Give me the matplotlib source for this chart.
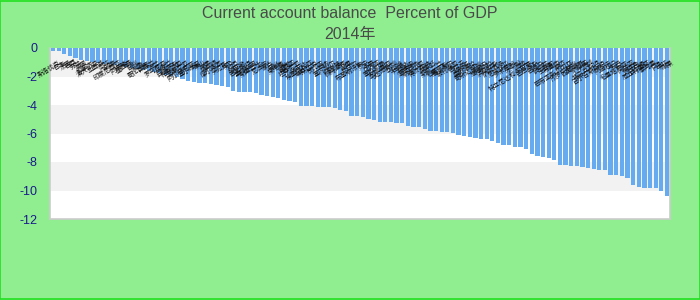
import matplotlib.pyplot as plt
import matplotlib.transforms as mtransforms
from matplotlib.patches import Rectangle

plt.rcParams['font.family'] = ['Liberation Sans', 'Noto Sans CJK SC', 'DejaVu Sans']

# 经常账户余额 (占GDP百分比), 2014
countries = ["斯洛伐克", "日本", "法国", "巴西", "芬兰", "英国", "加拿大", "澳大利亚", "土耳其", "南非",
             "印度", "印度尼西亚", "阿根廷", "墨西哥", "智利", "秘鲁", "哥伦比亚", "新西兰", "波兰", "罗马尼亚",
             "乌克兰", "白俄罗斯", "格鲁吉亚", "亚美尼亚", "阿尔巴尼亚", "塞尔维亚", "黑山", "波黑", "马其顿", "摩尔多瓦",
             "突尼斯", "埃及", "约旦", "黎巴嫩", "巴基斯坦", "孟加拉国", "斯里兰卡", "尼泊尔", "蒙古", "老挝",
             "柬埔寨", "缅甸", "肯尼亚", "坦桑尼亚", "乌干达", "埃塞俄比亚", "莫桑比克", "赞比亚", "加纳", "塞内加尔",
             "喀麦隆", "科特迪瓦", "马里", "尼日尔", "布基纳法索", "贝宁", "多哥", "几内亚", "塞拉利昂", "利比里亚",
             "马达加斯加", "马拉维", "卢旺达", "布隆迪", "津巴布韦", "纳米比亚", "博茨瓦纳", "莱索托", "斯威士兰", "毛里求斯",
             "厄瓜多尔", "玻利维亚", "巴拉圭", "乌拉圭", "委内瑞拉", "哥斯达黎加", "巴拿马", "危地马拉", "洪都拉斯", "萨尔瓦多",
             "尼加拉瓜", "多米尼加", "牙买加", "海地", "特立尼达和多巴哥", "巴巴多斯", "巴哈马", "伯利兹", "圭亚那", "苏里南",
             "斐济", "巴布亚新几内亚", "所罗门群岛", "瓦努阿图", "萨摩亚", "汤加", "塔吉克斯坦", "吉尔吉斯斯坦", "阿富汗", "也门",
             "苏丹", "毛里塔尼亚", "冈比亚", "佛得角", "吉布提", "厄立特里亚", "索马里", "乍得", "中非", "刚果"]

balance = [-0.19, -0.23, -0.42, -0.54, -0.70, -0.85, -0.93, -1.00, -1.05, -1.10,
           -1.15, -1.20, -1.25, -1.32, -1.38, -1.45, -1.52, -1.58, -1.66, -1.75,
           -1.86, -1.95, -2.06, -2.20, -2.30, -2.40, -2.45, -2.48, -2.50, -2.57,
           -2.64, -2.76, -2.99, -3.06, -3.06, -3.08, -3.18, -3.27, -3.39, -3.46,
           -3.53, -3.62, -3.69, -3.76, -4.04, -4.10, -4.10, -4.12, -4.12, -4.16,
           -4.23, -4.33, -4.40, -4.75, -4.75, -4.82, -4.96, -5.03, -5.17, -5.17,
           -5.17, -5.24, -5.24, -5.45, -5.52, -5.52, -5.66, -5.80, -5.80, -5.87,
           -5.87, -5.94, -6.08, -6.15, -6.22, -6.29, -6.36, -6.36, -6.50, -6.64,
           -6.78, -6.78, -6.92, -6.92, -7.06, -7.41, -7.55, -7.62, -7.69, -7.83,
           -8.18, -8.18, -8.25, -8.25, -8.32, -8.39, -8.46, -8.53, -8.53, -8.88,
           -8.88, -8.95, -9.09, -9.58, -9.72, -9.80, -9.80, -9.80, -10.00, -10.36]

yticks = [0, -2, -4, -6, -8, -10, -12]

fig = plt.figure(figsize=(7, 3), dpi=100, facecolor='#90ee90')
fig.patches.append(Rectangle((0.0007, 0.0017), 0.9986, 0.9966, transform=fig.transFigure,
                             fill=False, edgecolor='#22e022', linewidth=1.2))

ax = fig.add_axes([50 / 700, 1 - 219 / 300, 620 / 700, 171 / 300])
ax.set_facecolor('white')

# alternating horizontal bands
for k, (top, bot) in enumerate(zip(yticks[:-1], yticks[1:])):
    if k % 2 == 0:
        ax.axhspan(bot, top, color='#f2f2f2', zorder=0, lw=0)

x = list(range(len(balance)))
ax.bar(x, balance, width=0.76, color='#66aaf0', zorder=2)

ax.set_xlim(-0.55, len(balance) - 0.45)
ax.set_ylim(-12, 0)
ax.set_yticks(yticks)
ax.set_yticklabels([str(t) for t in yticks])
ax.tick_params(axis='y', length=0, pad=9, labelsize=9, labelcolor='#1a1a8c')
ax.set_xticks([])
for s in ax.spines.values():
    s.set_color('#cccccc')
    s.set_linewidth(1.2)
ax.spines['top'].set_visible(False)

# category labels hanging under the zero line
trans = mtransforms.blended_transform_factory(ax.transData, ax.transAxes)
for i, name in enumerate(countries):
    ax.text(i + 0.8, 1 - 11 / 171, name, transform=trans, rotation=32,
            rotation_mode='anchor', ha='right', va='top', fontsize=4.6,
            color='#111111', zorder=3, clip_on=False)

fig.text(0.5, 1 - 14 / 300, 'Current account balance  Percent of GDP', ha='center', va='center',
         fontsize=11.5, color='#4a4a4a')
fig.text(0.5, 1 - 34 / 300, '2014年', ha='center', va='center', fontsize=11.5, color='#4a4a4a')

fig.savefig('out.png', dpi=100, facecolor=fig.get_facecolor())
